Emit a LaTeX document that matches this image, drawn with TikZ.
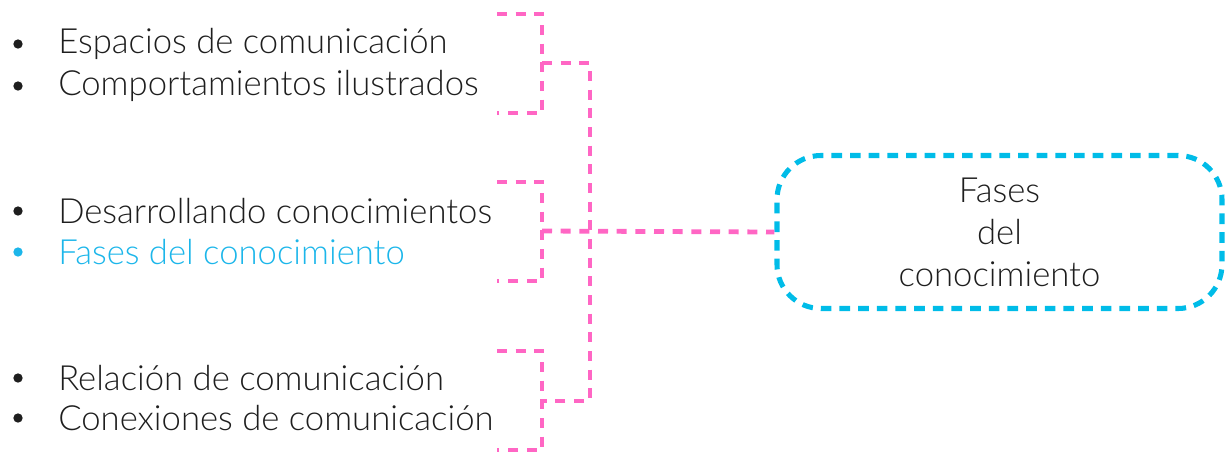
\documentclass[tikz,border=0pt]{standalone}
\usepackage{fontspec}
\setmainfont{Lato}[UprightFont=* Light]
\definecolor{pinkln}{HTML}{FF66C4}
\definecolor{cyanln}{HTML}{00BCE8}
\definecolor{cyantx}{HTML}{1CB6EA}
\definecolor{textc}{HTML}{1E1E1E}
\begin{document}
\begin{tikzpicture}[x=0.75pt,y=-0.75pt,
  pinkdash/.style={draw=pinkln,line width=3.6pt,dash pattern=on 7.5pt off 6.5pt},
  bluedash/.style={draw=cyanln,line width=3.8pt,dash pattern=on 8pt off 6pt,rounded corners=33pt},
  itemtxt/.style={anchor=west,inner sep=0pt,font=\fontsize{26}{30}\selectfont,text=textc},
  bullet/.style={circle,fill=textc,inner sep=0pt,minimum size=7pt}]
\useasboundingbox (0,0) rectangle (1225,455);
% text items
\foreach \n/\y/\t in {a/44/Espacios de comunicación,b/86/Comportamientos ilustrados,c/211/Desarrollando conocimientos,e/378/Relación de comunicación,f/418/Conexiones de comunicación}{
  \node[bullet] (bul\n) at (18,\y) {};
  \node[itemtxt] (txt\n) at (58,\y) {\t};
}
\node[bullet,fill=cyantx] (buld) at (18,252) {};
\node[itemtxt,text=cyantx] (txtd) at (58,252) {Fases del conocimiento};
% brackets
\coordinate (b1t) at (497,14); \coordinate (b1m) at (542,63); \coordinate (b1b) at (497,113);
\coordinate (b2t) at (497,182); \coordinate (b2m) at (542,231); \coordinate (b2b) at (497,281);
\coordinate (b3t) at (497,351); \coordinate (b3m) at (542,401); \coordinate (b3b) at (497,450);
\coordinate (j1) at (590,63); \coordinate (j3) at (590,401);
\draw[pinkdash] (b1t) -| (b1m) |- (b1b);
\draw[pinkdash] (b2t) -| (b2m) |- (b2b);
\draw[pinkdash] (b3t) -| (b3m) |- (b3b);
\draw[pinkdash] (b1m) -- (j1) -- (j3) -- (b3m);
% box
\node[bluedash,minimum width=445pt*0.75,minimum height=153pt*0.75,align=center,
  font=\fontsize{26}{31.5}\selectfont,text=textc] (box) at (999.5,232) {Fases\\del\\conocimiento};
\draw[pinkdash] (b2m) -- (box.west);
\end{tikzpicture}
\end{document}
